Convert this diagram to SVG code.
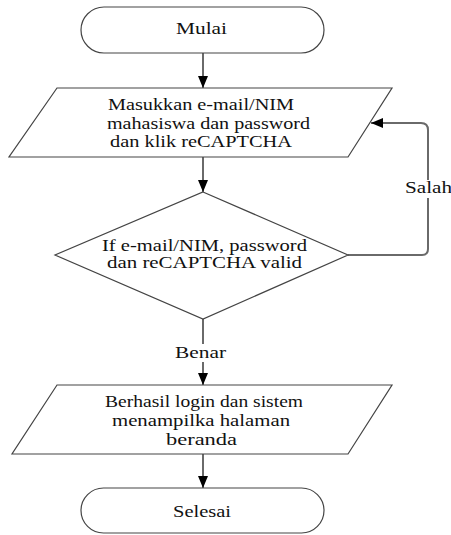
<svg xmlns="http://www.w3.org/2000/svg" width="451" height="535" viewBox="0 0 451 535">
  <style>
    .shape { fill: #ffffff; stroke: #444444; stroke-width: 1.2; }
    .edge { fill: none; stroke: #6a6a6a; stroke-width: 2; }
    .lbl { font-family: "Liberation Serif", "Times New Roman", serif; font-size: 16px; fill: #111111; }
  </style>
  <defs>
    <marker id="arrow" viewBox="0 0 12 10" refX="12" refY="5" markerWidth="12" markerHeight="10" markerUnits="userSpaceOnUse" orient="auto">
      <path d="M0,0 L12,5 L0,10 Z" fill="#000000"/>
    </marker>
  </defs>
  <rect width="451" height="535" fill="#ffffff"/>

  <g id="connectors">
    <line class="edge" x1="203" y1="53" x2="203" y2="88" marker-end="url(#arrow)"/>
    <line class="edge" x1="203" y1="157" x2="203" y2="192" marker-end="url(#arrow)"/>
    <path class="edge" d="M348,255 H422 Q428,255 428,249 V130 Q428,123 421,123 H371" marker-end="url(#arrow)"/>
    <line class="edge" x1="203" y1="319" x2="203" y2="385" marker-end="url(#arrow)"/>
    <line class="edge" x1="203" y1="454" x2="203" y2="488" marker-end="url(#arrow)"/>
    <rect x="402" y="180" width="49" height="18" fill="#ffffff"/>
    <text class="lbl" x="405" y="193" textLength="47" lengthAdjust="spacingAndGlyphs">Salah</text>
    <rect x="173" y="344" width="56" height="18" fill="#ffffff"/>
    <text class="lbl" x="175" y="358" textLength="51" lengthAdjust="spacingAndGlyphs">Benar</text>
  </g>

  <g id="start">
    <rect class="shape" x="81" y="7" width="243" height="46" rx="23" ry="23"/>
    <text class="lbl" x="176" y="34" textLength="51" lengthAdjust="spacingAndGlyphs">Mulai</text>
  </g>

  <g id="input">
    <polygon class="shape" points="57,88 392,88 348,157 9,157"/>
    <text class="lbl" x="108" y="110" textLength="186" lengthAdjust="spacingAndGlyphs">Masukkan e-mail/NIM</text>
    <text class="lbl" x="107" y="129" textLength="203" lengthAdjust="spacingAndGlyphs">mahasiswa dan password</text>
    <text class="lbl" x="110" y="147" textLength="182" lengthAdjust="spacingAndGlyphs">dan klik reCAPTCHA</text>
  </g>

  <g id="check">
    <polygon class="shape" points="203,192 348,255 203,319 55,255"/>
    <text class="lbl" x="102" y="251" textLength="205" lengthAdjust="spacingAndGlyphs">If e-mail/NIM, password</text>
    <text class="lbl" x="107" y="268" textLength="195" lengthAdjust="spacingAndGlyphs">dan reCAPTCHA valid</text>
  </g>

  <g id="success">
    <polygon class="shape" points="57,385 392,385 348,454 12,454"/>
    <text class="lbl" x="105" y="407" textLength="198" lengthAdjust="spacingAndGlyphs">Berhasil login dan sistem</text>
    <text class="lbl" x="112" y="426" textLength="178" lengthAdjust="spacingAndGlyphs">menampilka halaman</text>
    <text class="lbl" x="166" y="445" textLength="71" lengthAdjust="spacingAndGlyphs">beranda</text>
  </g>

  <g id="end">
    <rect class="shape" x="81" y="488" width="243" height="45" rx="22.5" ry="22.5"/>
    <text class="lbl" x="173" y="517" textLength="58" lengthAdjust="spacingAndGlyphs">Selesai</text>
  </g>
</svg>
